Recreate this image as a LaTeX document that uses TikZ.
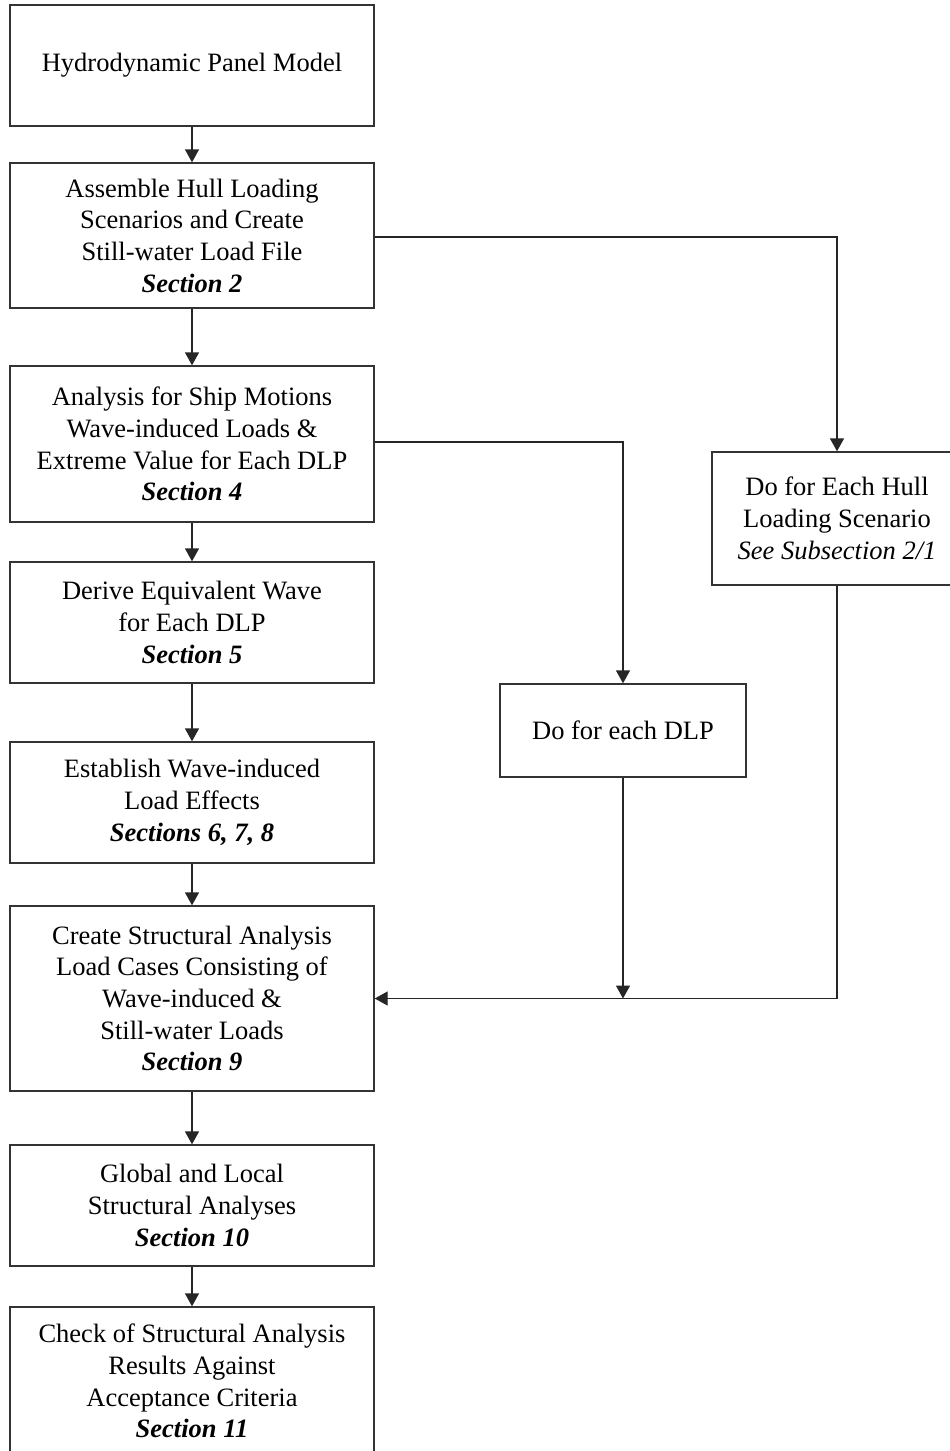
\documentclass[tikz,border=0pt]{standalone}
\usepackage{fontspec}
\setmainfont{Liberation Serif}
\usetikzlibrary{arrows.meta}
\begin{document}
\begin{tikzpicture}[x=1pt,y=-1pt,
  box/.style={draw=black!80, line width=1.4pt, rectangle, align=center, inner sep=0pt,
    font=\fontsize{26.5}{31.7}\selectfont},
  colbox/.style={box, minimum width=364pt},
  conn/.style={draw=black!85, line width=1.4pt, -{Triangle[length=13pt,width=14pt]}},
  line/.style={draw=black!85, line width=1.4pt}]
\useasboundingbox (0,0) rectangle (950,1451);
\clip (0,0) rectangle (950,1451);
\fill[white] (0,0) rectangle (950,1451);

\node[colbox, minimum height=121pt] (b1) at (192,65.5) {Hydrodynamic Panel Model};
\node[colbox, minimum height=145pt] (b2) at (192,235.5) {Assemble Hull Loading\\Scenarios and Create\\Still-water Load File\\\textbf{\textit{Section 2}}};
\node[colbox, minimum height=156pt] (b3) at (192,444) {Analysis for Ship Motions\\Wave-induced Loads \&\\Extreme Value for Each DLP\\\textbf{\textit{Section 4}}};
\node[colbox, minimum height=121pt] (b4) at (192,622.5) {Derive Equivalent Wave\\for Each DLP\\\textbf{\textit{Section 5}}};
\node[colbox, minimum height=121pt] (b5) at (192,802.5) {Establish Wave-induced\\Load Effects\\\textbf{\textit{Sections 6, 7, 8}}};
\node[colbox, minimum height=185pt] (b6) at (192,998.5) {Create Structural Analysis\\Load Cases Consisting of\\Wave-induced \&\\Still-water Loads\\\textbf{\textit{Section 9}}};
\node[colbox, minimum height=121pt] (b7) at (192,1205.5) {Global and Local\\Structural Analyses\\\textbf{\textit{Section 10}}};
\node[colbox, minimum height=148pt] (b8) at (192,1381) {Check of Structural Analysis\\Results Against\\Acceptance Criteria\\\textbf{\textit{Section 11}}};

\node[box, minimum width=250pt, minimum height=133pt] (hull) at (837,518.5) {Do for Each Hull\\Loading Scenario\\\textit{See Subsection 2/1}};
\node[box, minimum width=246pt, minimum height=93pt] (dlp) at (623,730.5) {Do for each DLP};

\coordinate (m1) at (dlp.south |- b6.east);

\draw[conn] (b1) -- (b2);
\draw[conn] (b2) -- (b3);
\draw[conn] (b3) -- (b4);
\draw[conn] (b4) -- (b5);
\draw[conn] (b5) -- (b6);
\draw[conn] (b6) -- (b7);
\draw[conn] (b7) -- (b8);

\draw[conn] ([yshift=-1.5pt]b2.east) -| (hull.north);
\draw[conn] ([yshift=2pt]b3.east) -| (dlp.north);
\draw[conn] (dlp.south) -- (m1);
\draw[conn] (hull.south) |- (b6.east);
\end{tikzpicture}
\end{document}
